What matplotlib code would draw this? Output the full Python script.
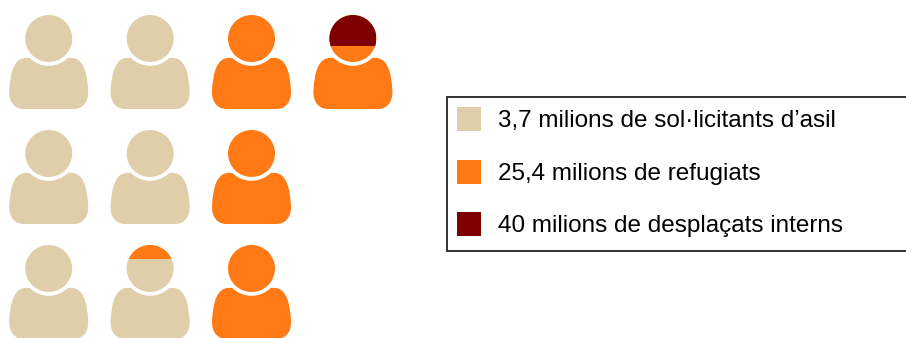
import matplotlib
matplotlib.use('Agg')
import matplotlib.pyplot as plt
from matplotlib.patches import Circle, PathPatch, Rectangle
from matplotlib.path import Path

plt.rcParams['font.family'] = ['Liberation Sans', 'DejaVu Sans']

BEIGE = '#E0CEAB'
ORANGE = '#FF7A15'
DARK_RED = '#7F0000'

# One entry per person icon
icon_cols = [0, 1, 2, 3, 0, 1, 2, 0, 1, 2]
icon_rows = [0, 0, 0, 0, 1, 1, 1, 2, 2, 2]
icon_colors = [BEIGE, BEIGE, ORANGE, ORANGE, BEIGE, BEIGE, ORANGE, BEIGE, BEIGE, ORANGE]
cap_colors = [None, None, None, DARK_RED, None, None, None, None, ORANGE, None]
cap_shares = [0, 0, 0, 0.67, 0, 0, 0, 0, 0.30, 0]

legend_labels = [
    '3,7 milions de sol·licitants d’asil',
    '25,4 milions de refugiats',
    '40 milions de desplaçats interns',
]
legend_colors = [BEIGE, ORANGE, DARK_RED]

COL_STEP = 101.4
ROW_STEP = 115
HEAD_R = 23.5


def body_path(cx, top):
    # Shoulders and torso, symmetric around cx; top is the top of the head
    left = [
        (cx, top + 30),
        (cx - 20, top + 43),
        (cx - 35, top + 41), (cx - 38.5, top + 58), (cx - 39.5, top + 76),
        (cx - 40, top + 87), (cx - 34, top + 94), (cx - 25, top + 94),
    ]
    codes = [Path.MOVETO, Path.LINETO] + [Path.CURVE4] * 6
    verts = list(left)
    codes.append(Path.LINETO)
    verts.append((cx + 25, top + 94))
    mirrored = [(2 * cx - x, y) for x, y in left[::-1]]
    verts += mirrored[1:]
    codes += [Path.CURVE4] * 6 + [Path.LINETO]
    return Path(verts, codes)


def draw_person(ax, col, row, color, cap_color, cap_share):
    cx = 48.7 + col * COL_STEP
    top = 15 + row * ROW_STEP
    cy = top + HEAD_R
    ax.add_patch(PathPatch(body_path(cx, top), facecolor=color, edgecolor='none'))
    # white ring separates the head from the shoulders
    ax.add_patch(Circle((cx, cy), HEAD_R + 3.8, facecolor='white', edgecolor='none'))
    ax.add_patch(Circle((cx, cy), HEAD_R, facecolor=color, edgecolor='none'))
    if cap_color is not None:
        cap = Circle((cx, cy), HEAD_R, facecolor=cap_color, edgecolor='none')
        ax.add_patch(cap)
        clip = Rectangle((cx - HEAD_R, top), 2 * HEAD_R, 2 * HEAD_R * cap_share,
                         transform=ax.transData)
        cap.set_clip_path(clip)


fig = plt.figure(figsize=(9.06, 3.38), dpi=100)
ax = fig.add_axes([0, 0, 1, 1])
ax.set_xlim(0, 906)
ax.set_ylim(338, 0)
ax.axis('off')

for col, row, color, cap_color, share in zip(icon_cols, icon_rows, icon_colors, cap_colors, cap_shares):
    draw_person(ax, col, row, color, cap_color, share)

# legend box runs off the right edge
ax.add_patch(Rectangle((447, 96.5), 470, 154, facecolor='white', edgecolor='#222222', linewidth=1.3))
for i, (label, color) in enumerate(zip(legend_labels, legend_colors)):
    y = 119 + i * 52.7
    ax.add_patch(Rectangle((457, y - 12), 24, 24, facecolor=color, edgecolor='none'))
    ax.text(498, y + 2, label, fontsize=17.45, color='black', va='center', ha='left')

fig.savefig('out.png', dpi=100)
